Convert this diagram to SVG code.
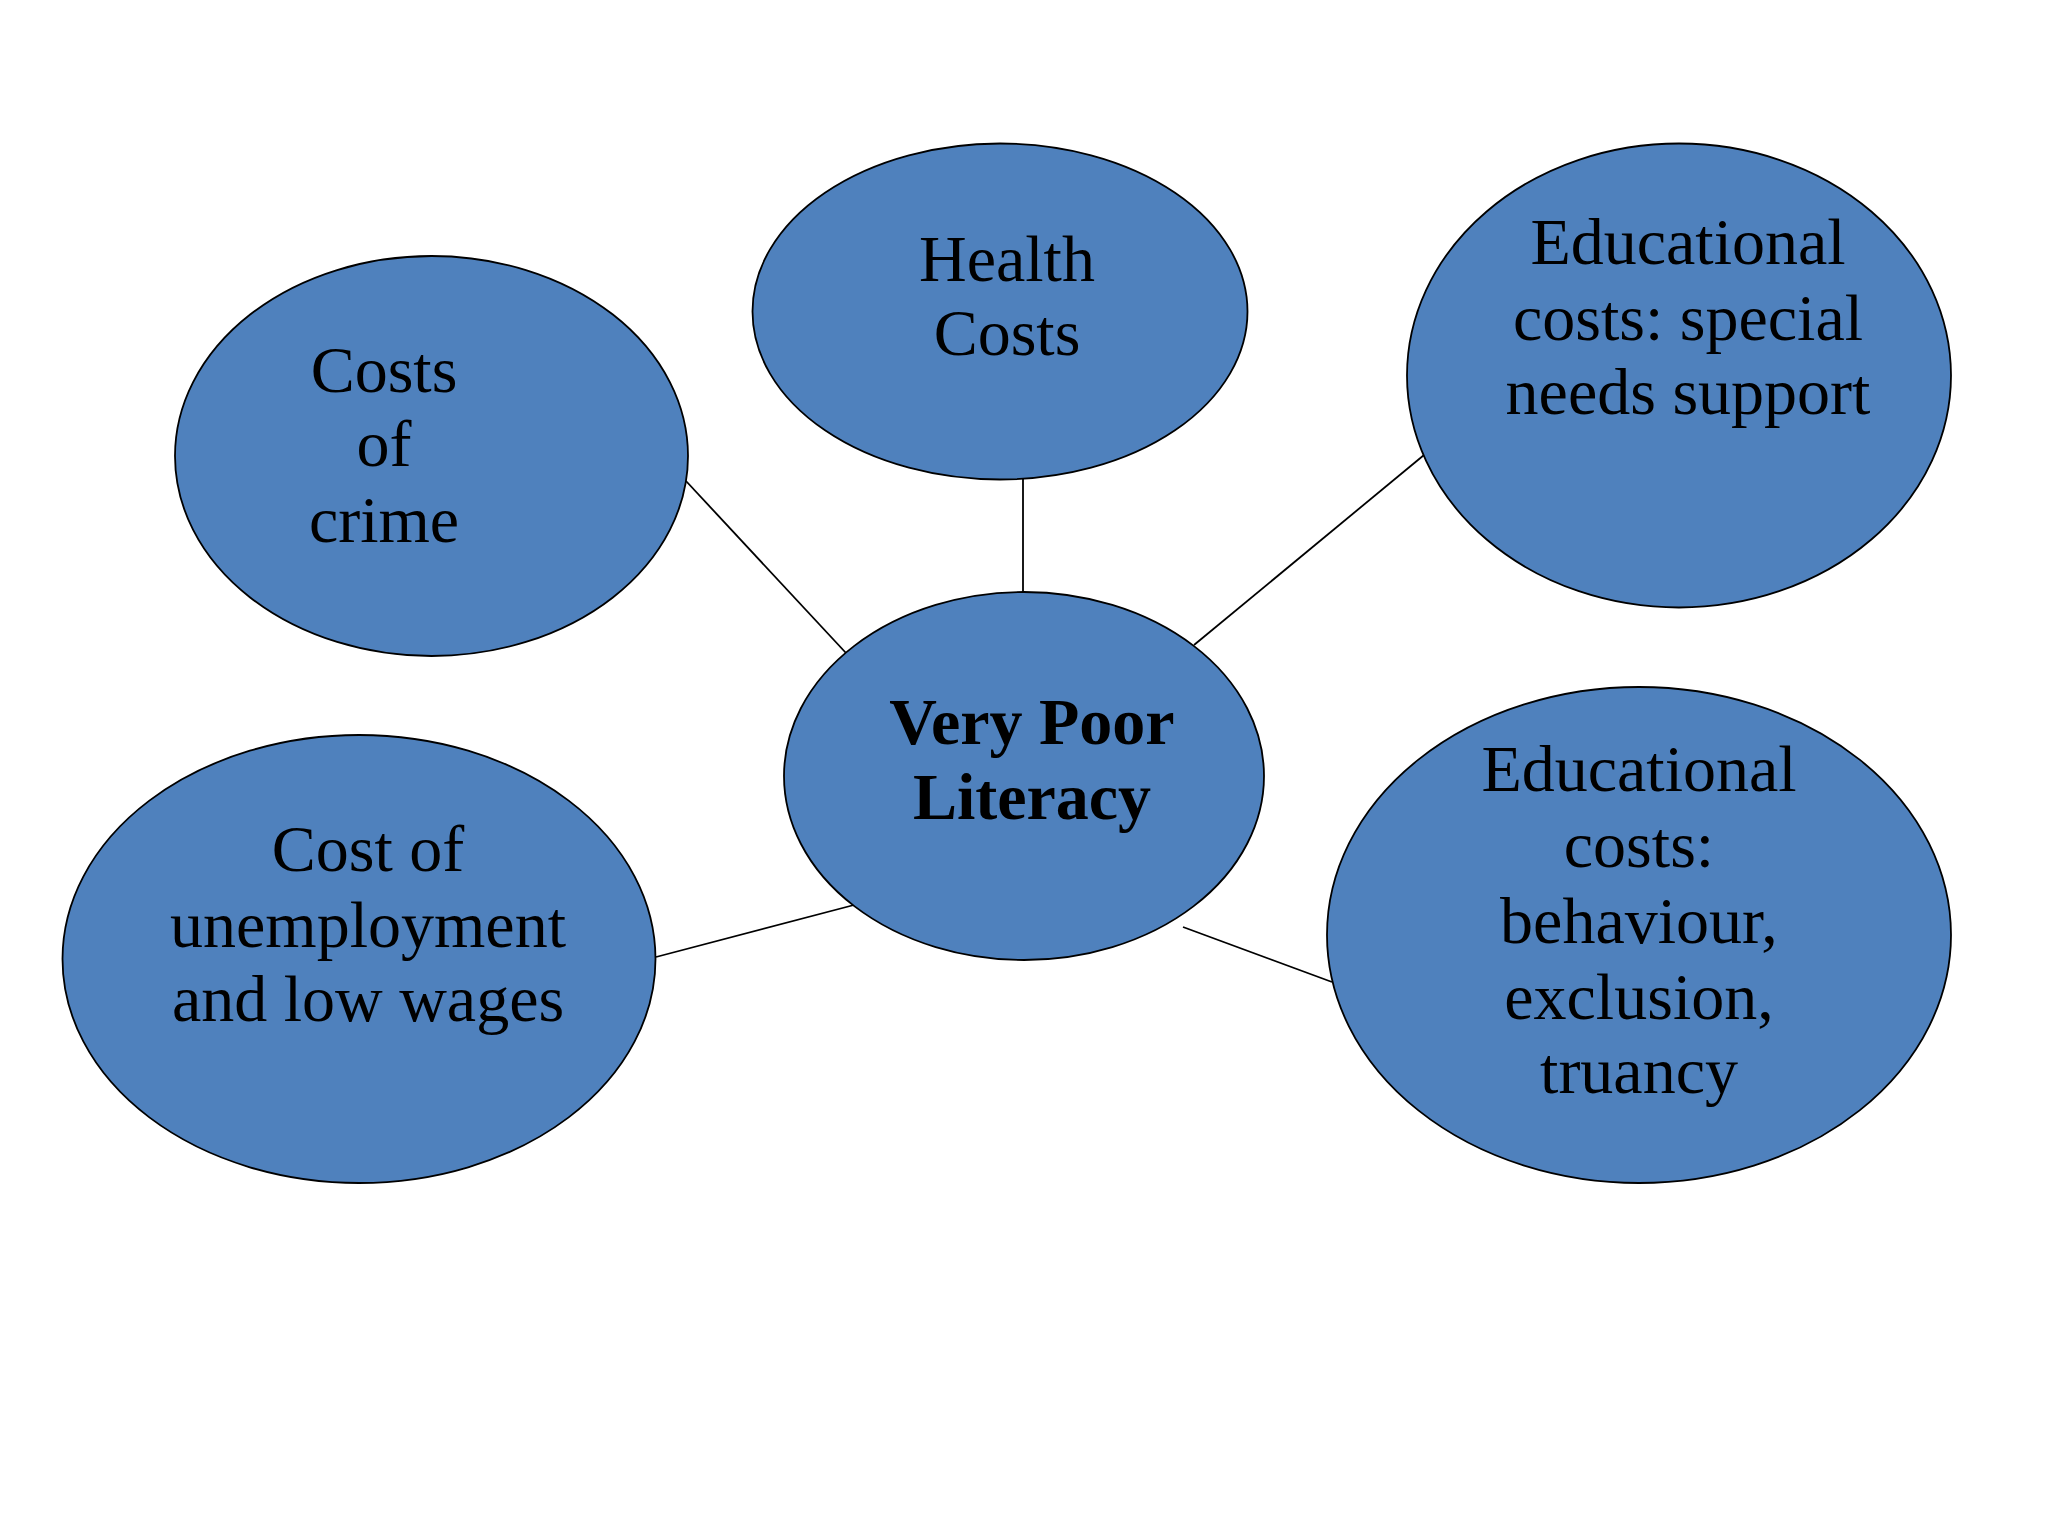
<svg xmlns="http://www.w3.org/2000/svg" width="2048" height="1536" viewBox="0 0 2048 1536">
<style>
.node{fill:#4F81BD;stroke:#000;stroke-width:1.8}
.t{font-family:"Liberation Serif","Times New Roman",serif;font-size:66px;fill:#000;text-anchor:middle}
.b{font-weight:bold}
.conn line{stroke:#000;stroke-width:1.8}
</style>
<rect width="2048" height="1536" fill="#fff"/>
<g id="connectors" class="conn">
<line x1="686" y1="481" x2="846" y2="653"/>
<line x1="1023" y1="479" x2="1023" y2="592"/>
<line x1="1424" y1="455" x2="1194" y2="645"/>
<line x1="656" y1="957" x2="854" y2="905"/>
<line x1="1183" y1="927" x2="1332" y2="982"/>
</g>
<g id="health">
<ellipse class="node" cx="1000" cy="311.5" rx="247.5" ry="168"/>
<text class="t" x="1007"><tspan x="1007" y="281">Health</tspan><tspan x="1007" y="355">Costs</tspan></text>
</g>
<g id="crime">
<ellipse class="node" cx="431.5" cy="456" rx="256.5" ry="200"/>
<text class="t"><tspan x="384" y="392">Costs</tspan><tspan x="384" y="466">of</tspan><tspan x="384" y="542">crime</tspan></text>
</g>
<g id="special-needs">
<ellipse class="node" cx="1679" cy="375.5" rx="272" ry="232"/>
<text class="t"><tspan x="1688" y="264">Educational</tspan><tspan x="1688" y="340">costs: special</tspan><tspan x="1688" y="414">needs support</tspan></text>
</g>
<g id="literacy">
<ellipse class="node" cx="1024" cy="776" rx="240" ry="184"/>
<text class="t b"><tspan x="1032" y="744">Very Poor</tspan><tspan x="1032" y="819">Literacy</tspan></text>
</g>
<g id="unemployment">
<ellipse class="node" cx="359" cy="959" rx="296.5" ry="224"/>
<text class="t"><tspan x="368" y="871">Cost of</tspan><tspan x="368" y="947">unemployment</tspan><tspan x="368" y="1021">and low wages</tspan></text>
</g>
<g id="behaviour">
<ellipse class="node" cx="1639" cy="935" rx="312" ry="248"/>
<text class="t"><tspan x="1639" y="791">Educational</tspan><tspan x="1639" y="867">costs:</tspan><tspan x="1639" y="943">behaviour,</tspan><tspan x="1639" y="1019">exclusion,</tspan><tspan x="1639" y="1093">truancy</tspan></text>
</g>
</svg>
